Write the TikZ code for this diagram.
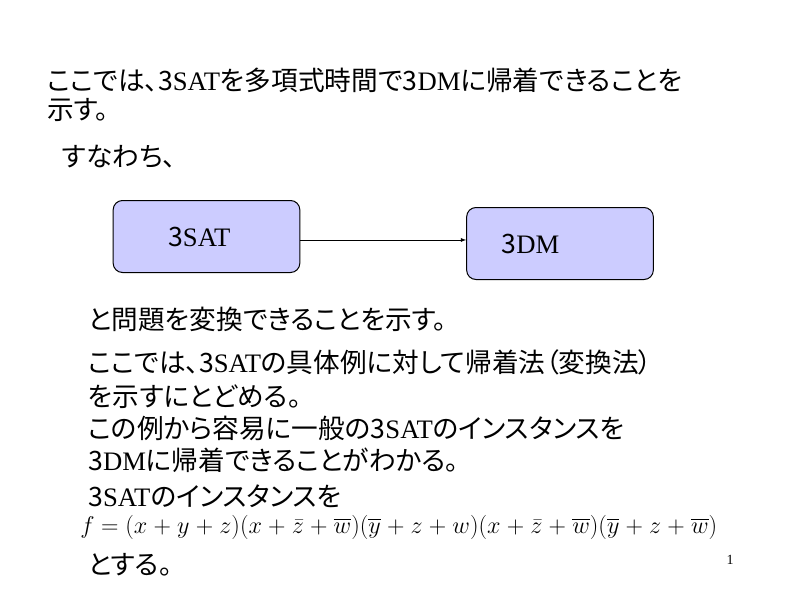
\documentclass[tikz,border=0pt]{standalone}
\usepackage[no-math]{fontspec}
\usepackage{amsmath}
\usepackage{graphicx}
\setmainfont{Liberation Serif}
\newfontfamily\jpfont[RawFeature=+palt]{Noto Sans CJK JP}
\usetikzlibrary{arrows,positioning}
\definecolor{boxblue}{RGB}{204,204,255}
\newcommand{\jp}[1]{{\jpfont #1}}

\begin{document}
\begin{tikzpicture}[x=0.75pt,y=-0.75pt,
	line/.style={anchor=west,inner sep=0pt,font=\fontsize{20}{24}\selectfont},
	prob/.style={draw,line width=0.75pt,rounded corners=7pt,fill=boxblue,minimum width=140pt,minimum height=54pt,align=left,font=\fontsize{20}{24}\selectfont}]
			\useasboundingbox (0,0) rectangle (800,600);
			\node[line] (l1) at (47,80) {\jp{ここでは、3}SAT\jp{を多項式時間で3}DM\jp{に帰着できることを}};
			\node[line] (l2) at (47,110) {\jp{示す。}};
			\node[line] (l3) at (62,157) {\jp{すなわち、}};
			\node[prob,inner xsep=41.25pt,text width=57.5pt] (sat) at (206.5,236.5) {\jp{3}SAT};
			\node[prob,inner xsep=26.25pt,text width=87.5pt] (dm) at (560,243.5) {\jp{3}DM};
			\draw[-latex] ([yshift=-2.6pt]sat.east) -- ([yshift=-2.6pt]sat.east -| dm.west);
			\node[line] (l4) at (88,319) {\jp{と問題を変換できることを示す。}};
			\node[line] (l5) at (88,362) {\jp{ここでは、3}SAT\jp{の具体例に対して帰着法（変換法）}};
			\node[line] (l6) at (88,397) {\jp{を示すにとどめる。}};
			\node[line] (l7) at (88,428) {\jp{この例から容易に一般の3}SAT\jp{のインスタンスを}};
			\node[line] (l8) at (88,460) {\jp{3}DM\jp{に帰着できることがわかる。}};
			\node[line] (l9) at (88,496) {\jp{3}SAT\jp{のインスタンスを}};
			\node[line,font=\fontsize{17.28}{21}\selectfont] (fml) at (80,527) {\scalebox{1.05}{$\medmuskip=4.6mu f=(x+y+z)(x+\bar{z}+\overline{w})(\overline{y}+z+w)(x+\bar{z}+\overline{w})(\overline{y}+z+\overline{w})$}};
			\node[line] (l10) at (88,565) {\jp{とする。}};
			\node[inner sep=0pt,font=\fontsize{10.5}{12}\selectfont] (pg) at (730,560) {1};
\end{tikzpicture}
\end{document}
